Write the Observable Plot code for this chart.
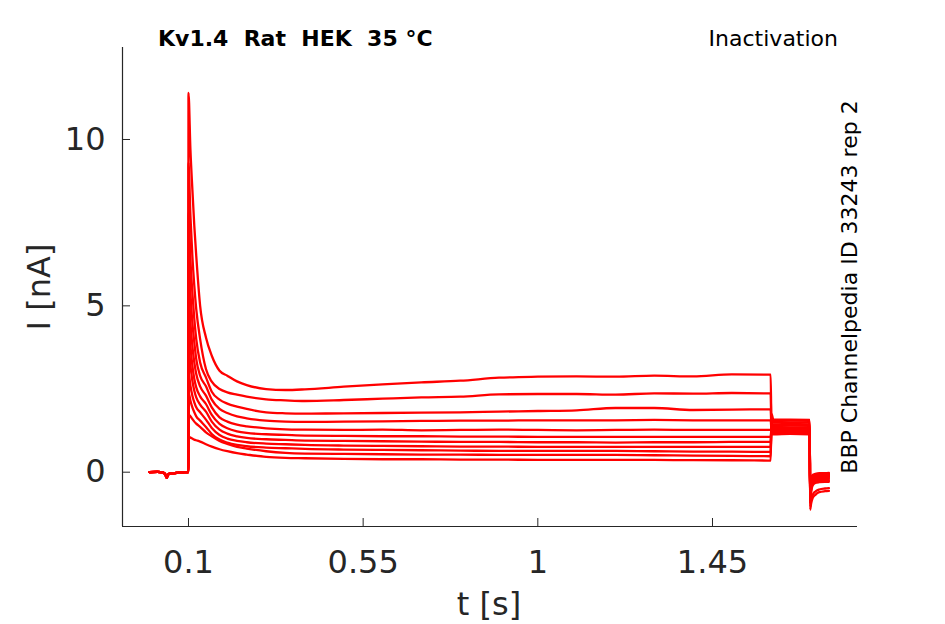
<!DOCTYPE html>
<html><head><meta charset="utf-8">
<script src="https://cdn.jsdelivr.net/npm/d3@7"></script>
<script src="https://cdn.jsdelivr.net/npm/@observablehq/plot@0.6"></script>
<style>
body{margin:0;background:#fff;}
#wrap{position:relative;width:945px;height:624px;font-family:"DejaVu Sans",sans-serif;color:#262626;overflow:hidden;}
.t{position:absolute;white-space:pre;line-height:1;}
.c{transform:translate(-50%,-50%);}
.r{transform:translate(-50%,-50%) rotate(-90deg);}
</style></head><body>
<div id="wrap">
<div id="chart"></div>
<div class="t" style="left:158px;top:28px;font-size:22px;font-weight:bold;color:#000">Kv1.4  Rat  HEK  35 °C</div>
<div class="t" style="right:107px;top:28px;font-size:22px;color:#000">Inactivation</div>
<div class="t r" style="left:850px;top:287px;font-size:22px;color:#000">BBP Channelpedia ID 33243 rep 2</div>
<div class="t r" style="left:39px;top:287px;font-size:32px;">I [nA]</div>
<div class="t c" style="left:489px;top:604px;font-size:32px;">t [s]</div>
</div>
<script>
// axis settings
const xDomain = [-0.070, 1.8236];
const yDomain = [-1.632, 12.765];
const xTicks = [0.1, 0.55, 1, 1.45];
const xTickLabels = ["0.1", "0.55", "1", "1.45"];
const yTicks = [0, 5, 10];
const yTickLabels = ["0", "5", "10"];

// holding segment (shared by all sweeps)
const preT = [0, 0.02, 0.036, 0.041, 0.044, 0.047, 0.052, 0.07, 0.09, 0.0995];
const preI = [0.0, 0.01, -0.02, -0.08, -0.17, -0.08, -0.04, -0.02, 0.0, 0.0];

// conditioning step (t = 0.1 … 1.6 s)
const stepT = [0.1, 0.105, 0.11, 0.115, 0.12, 0.13, 0.145, 0.16, 0.18, 0.2, 0.225, 0.25, 0.3, 0.35, 0.4, 0.5, 0.6, 0.7, 0.8, 0.9, 1.0, 1.1, 1.2, 1.3, 1.4, 1.5, 1.6];
const sweep01 = [11.4, 9.7, 8.5, 7.4, 6.5, 5.0, 4.05, 3.5, 3.05, 2.9, 2.73, 2.62, 2.5, 2.47, 2.49, 2.57, 2.64, 2.7, 2.75, 2.84, 2.87, 2.88, 2.87, 2.9, 2.88, 2.94, 2.93];
const sweep02 = [9.3, 7.7, 6.5, 5.6, 4.9, 4.0, 3.1, 2.72, 2.5, 2.4, 2.33, 2.27, 2.19, 2.16, 2.14, 2.17, 2.21, 2.25, 2.27, 2.34, 2.35, 2.35, 2.33, 2.37, 2.36, 2.38, 2.37];
const sweep03 = [7.8, 6.4, 5.4, 4.6, 4.0, 3.3, 2.85, 2.42, 2.18, 2.06, 1.97, 1.9, 1.8, 1.77, 1.76, 1.77, 1.78, 1.79, 1.8, 1.82, 1.84, 1.86, 1.93, 1.93, 1.87, 1.88, 1.89];
const sweep04 = [6.6, 5.4, 4.5, 3.9, 3.4, 2.9, 2.58, 2.18, 1.9, 1.78, 1.68, 1.62, 1.55, 1.52, 1.51, 1.52, 1.53, 1.54, 1.55, 1.55, 1.56, 1.56, 1.56, 1.57, 1.56, 1.56, 1.56];
const sweep05 = [5.5, 4.5, 3.8, 3.3, 2.95, 2.58, 2.3, 1.95, 1.65, 1.52, 1.43, 1.38, 1.32, 1.29, 1.28, 1.27, 1.28, 1.26, 1.27, 1.28, 1.27, 1.26, 1.27, 1.28, 1.27, 1.27, 1.27];
const sweep06 = [4.6, 3.8, 3.2, 2.8, 2.55, 2.28, 2.05, 1.72, 1.45, 1.32, 1.23, 1.18, 1.14, 1.12, 1.1, 1.09, 1.08, 1.08, 1.07, 1.07, 1.06, 1.06, 1.06, 1.06, 1.06, 1.06, 1.06];
const sweep07 = [3.8, 3.2, 2.75, 2.45, 2.25, 2.03, 1.82, 1.52, 1.28, 1.16, 1.08, 1.03, 0.99, 0.97, 0.95, 0.94, 0.93, 0.92, 0.91, 0.91, 0.9, 0.9, 0.89, 0.9, 0.9, 0.91, 0.91];
const sweep08 = [3.0, 2.6, 2.3, 2.1, 1.95, 1.8, 1.58, 1.33, 1.12, 1.01, 0.94, 0.9, 0.86, 0.84, 0.82, 0.8, 0.79, 0.78, 0.77, 0.77, 0.76, 0.76, 0.76, 0.76, 0.76, 0.76, 0.76];
const sweep09 = [2.4, 2.15, 1.95, 1.8, 1.68, 1.55, 1.36, 1.15, 0.98, 0.89, 0.82, 0.78, 0.74, 0.72, 0.7, 0.68, 0.67, 0.66, 0.65, 0.64, 0.64, 0.64, 0.64, 0.63, 0.62, 0.62, 0.61];
const sweep10 = [1.74, 1.68, 1.6, 1.52, 1.46, 1.36, 1.2, 1.08, 0.94, 0.85, 0.76, 0.71, 0.63, 0.58, 0.56, 0.55, 0.54, 0.53, 0.53, 0.52, 0.52, 0.52, 0.52, 0.51, 0.5, 0.49, 0.48];
const sweep11 = [1.06, 1.04, 1.01, 0.98, 0.96, 0.92, 0.84, 0.77, 0.69, 0.63, 0.57, 0.53, 0.46, 0.43, 0.42, 0.4, 0.39, 0.39, 0.38, 0.38, 0.37, 0.37, 0.37, 0.37, 0.36, 0.36, 0.35];

// test pulse and tail (t = 1.602 … 1.75 s)
const tailT = [1.602, 1.607, 1.65, 1.7005, 1.7015, 1.704, 1.708, 1.715, 1.725, 1.74, 1.75];
const tail01 = [1.14, 1.14, 1.15, 1.14, -0.55, -0.2, -0.08, -0.05, -0.03, -0.03, -0.02];
const tail02 = [1.18, 1.18, 1.19, 1.18, -0.6, -0.25, -0.12, -0.08, -0.06, -0.05, -0.05];
const tail03 = [1.22, 1.22, 1.23, 1.22, -0.65, -0.3, -0.15, -0.1, -0.08, -0.07, -0.07];
const tail04 = [1.26, 1.26, 1.27, 1.26, -0.7, -0.35, -0.18, -0.13, -0.11, -0.1, -0.1];
const tail05 = [1.3, 1.3, 1.31, 1.3, -0.75, -0.4, -0.22, -0.16, -0.14, -0.13, -0.13];
const tail06 = [1.34, 1.34, 1.35, 1.34, -0.8, -0.45, -0.26, -0.2, -0.17, -0.16, -0.16];
const tail07 = [1.39, 1.39, 1.4, 1.39, -0.85, -0.5, -0.3, -0.24, -0.21, -0.2, -0.2];
const tail08 = [1.44, 1.44, 1.45, 1.44, -0.9, -0.55, -0.35, -0.28, -0.25, -0.24, -0.24];
const tail09 = [1.49, 1.49, 1.5, 1.49, -0.95, -0.6, -0.4, -0.32, -0.3, -0.29, -0.29];
const tail10 = [1.6, 1.54, 1.55, 1.54, -1.05, -0.85, -0.68, -0.58, -0.52, -0.49, -0.48];
const tail11 = [1.75, 1.58, 1.58, 1.57, -1.13, -0.95, -0.78, -0.68, -0.6, -0.57, -0.56];

const sweeps = [sweep01, sweep02, sweep03, sweep04, sweep05, sweep06, sweep07, sweep08, sweep09, sweep10, sweep11];
const tails = [tail01, tail02, tail03, tail04, tail05, tail06, tail07, tail08, tail09, tail10, tail11];

const rows = [];
sweeps.forEach((vals, k) => {
  preT.forEach((t, i) => rows.push({sweep: k, t, I: preI[i]}));
  stepT.forEach((t, i) => rows.push({sweep: k, t, I: vals[i]}));
  tailT.forEach((t, i) => rows.push({sweep: k, t, I: tails[k][i]}));
});

const axisColor = "#262626";
const xFmt = d => xTickLabels[xTicks.indexOf(d)];
const yFmt = d => yTickLabels[yTicks.indexOf(d)];
const chart = Plot.plot({
  width: 945,
  height: 624,
  marginLeft: 122,
  marginRight: 88,
  marginTop: 47,
  marginBottom: 98,
  x: {domain: xDomain},
  y: {domain: yDomain},
  style: {fontFamily: "DejaVu Sans", color: axisColor, background: "white", overflow: "visible"},
  marks: [
    Plot.line(rows, {x: "t", y: "I", z: "sweep", stroke: "#ff0000", strokeWidth: 2.3, curve: "monotone-x"}),
    Plot.ruleX([xDomain[0]], {stroke: axisColor, strokeWidth: 1.2}),
    Plot.ruleY([yDomain[0]], {stroke: axisColor, strokeWidth: 1.2}),
    Plot.axisY(yTicks, {tickSize: 0, tickPadding: 17, fontSize: 32, label: null, fill: axisColor, tickFormat: yFmt}),
    Plot.axisY(yTicks, {tickSize: 8, dx: 8, text: null, label: null, stroke: axisColor}),
    Plot.axisX(xTicks, {tickSize: 0, tickPadding: 24, fontSize: 32, label: null, fill: axisColor, tickFormat: xFmt}),
    Plot.axisX(xTicks, {tickSize: 8, dy: -8, text: null, label: null, stroke: axisColor})
  ]
});
document.getElementById("chart").appendChild(chart);
</script>
</body></html>
